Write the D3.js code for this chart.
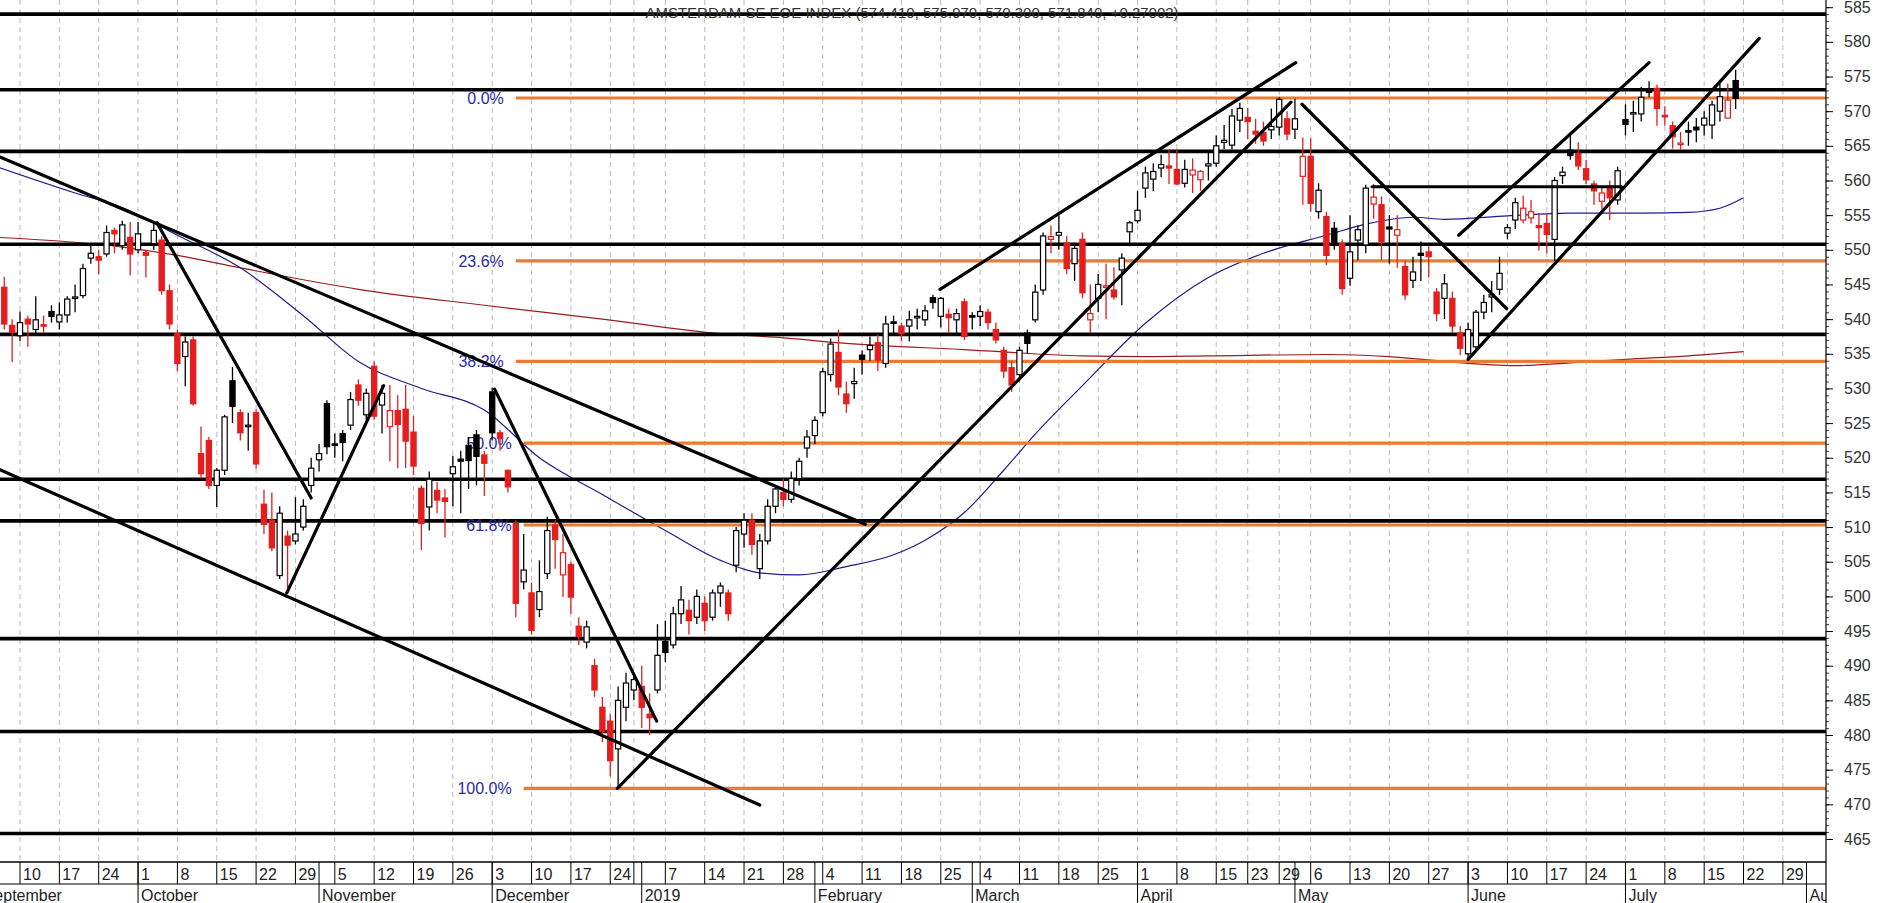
<!DOCTYPE html>
<html><head><meta charset="utf-8">
<script src="https://cdn.jsdelivr.net/npm/d3@7"></script>
<style>body{margin:0;background:#fff}svg{display:block}text{font-family:"Liberation Sans Narrow","Liberation Sans",Arial,sans-serif}</style>
</head><body>
<script>
const title = "AMSTERDAM SE EOE INDEX (574.410, 575.970, 570.300, 571.840, +0.27002)";
const firstDay = "2018-09-05", lastDay = "2019-08-02";
const holidays = ["2018-12-25","2018-12-26","2019-01-01","2019-04-19","2019-04-22","2019-05-01"];
// [open, high, low, close], one per trading day from 2018-09-05 to 2019-07-19
const candles = [
[546,547,540,541],[544.6,546.1,538.5,539.3],[539.1,540,533.8,538.1],
[537.6,541.1,536.8,539.5],[540,540.5,536,539.3],[538.5,543.3,537.6,539.9],[539.2,540.5,538,539],[541.1,542,539.5,540.4],
[539.6,542.4,538.5,540.6],[540.6,543.3,539.5,542.9],[543,545,541,543.2],[543.4,548,543,547.3],[548.8,551,548,549.5],
[549,550,546.5,548.5],[549.4,553.5,549,552.5],[552.8,553.2,549.5,552.3],[550.6,554.2,550,553.6],[551.8,554,546.3,549.4],
[550,554,549.5,552.3],[549.6,550,546,549.2],[550.9,553.9,550,552.8],[551.4,552,543.5,544.1],[544.1,545,538.5,539.3],
[537.9,538.5,532.5,533.6],[534.6,537.5,530.3,536.7],[537,537.5,527.5,527.8],[520.6,524.5,517,517.7],[522.5,523,515.5,516],
[516,518.5,512.9,518.2],[518.2,526.2,517.5,525.9],[531.1,533.1,525,527.4],[526.5,527,522.5,523.6],[524.6,526.5,521,524.7],
[526.5,527,518.5,519.1],[513.3,515.4,509,510.4],[511,515,506.5,507],[503,513,502.5,512],[508.7,509.5,501,507.4],
[508,514.3,507.5,509],[510,514,509.5,513],[516,520,515,518.5],[519.7,522,518,520.6],[527.8,528.3,520.5,521.6],
[522,523.5,520,521.9],[523.5,524,519.5,522.2],[524.7,529.5,524,528.4],[530.5,531.3,527.5,528.3],[526.2,530,525.5,529.3],
[533.2,533.9,525.5,526],[527.6,530.5,523.5,529.3],[524.5,530.5,519.5,526.8],[526.8,529,518.5,524.8],[527,530.5,518.5,522.4],
[523.7,526,517.5,518.8],[515.6,516,506.7,510.5],[512.9,518,509.5,516.9],[515.3,516.5,512,513.9],[514.2,515.5,508.5,513.7],
[517.7,520.3,513,518.7],[519.8,521,512,519.5],[521.8,523,515.5,519.6],[523.3,524,516,520.2],[520.4,521,514.5,519.2],
[529.5,530.1,522.5,523.6],[523.6,524,521,522.8],[518.2,518.2,515,515.8],[510.5,511,497,499],[502.1,509,501,503.8],
[500.5,502,494.5,495.1],[498.1,505.2,497,500.7],[503.3,511.5,502.5,509.5],[510.3,511,504,508.2],[503.1,509,499.9,506.3],
[504.6,505,497.5,499.9],[495.7,497,493,494.2],[493.4,496.5,492.5,495.6],[490,491,485.5,486.5],[484,485.5,479,480.5],
[482,483,474,476.3],[478,487,472.3,485],[484,489,482,487.5],[486.5,489,485,488],
[487,490,481,484],[483,486,480,482.5],[486.5,496,486,491.5],[493.5,496.5,490.5,491.9],[493,498.5,492.5,497.5],
[497.5,501.5,496,499.5],[498,499.5,494.5,496.5],[497,501,496,500],[499,500,495,496.5],[497,501,496.5,500.5],
[500.5,502,498.5,501.5],[500.5,501,496.5,497.5],[504.5,510,503.5,509.5],[509,512,507,511],[511,512,506,507.5],
[504,509,502.5,508],[508,514,507.5,513],[513,516,512,515.5],[515,517,513,514],[514,518,513.5,517],
[517,520,516,519.5],[521.4,524,520,523],[523.2,526,522,525.4],[526.5,533,526,532.4],[532,537.2,531,536.4],
[535.2,538.5,529,530.2],[529.2,531,526.5,527.8],[530.7,533,528.5,531],[534.8,535.5,532,534.2],[535.6,537.5,534,536.2],
[536.6,537.8,532.5,534.1],[533.6,540.5,533,539.3],[539.6,540.5,538,539.5],[539,539.5,536.8,537.9],[539,541.2,536.8,539.9],
[540.3,541.5,538.5,540.4],[539.9,542,539,541.2],[543.1,543.5,541.5,542.4],[540.4,543.2,538.8,543],[540.7,541.5,538,540.2],
[539.9,541.5,538,540.8],[542.5,543,537,537.5],[540.5,541,538.5,540.4],[540.4,542,539,541.1],[541,541.5,538.5,539.5],
[538.5,539.5,536.5,537],[535.5,536,531.5,532.5],[533,534,529.5,530.5],[532,536,531,535.5],[538,538.5,535,536.5],
[539.9,545,539.5,543.9],[544.2,552.5,543.5,552],[551.5,553.5,549.5,551.9],[552.1,555,550,552.5],[551,552,546.5,547.3],
[548,551,545.5,550.2],[551.5,552.5,543,543.8],[539.9,545,538,540.8],[543,546.5,541,545],[544.6,548,540,544.8],
[544.2,547.5,542.8,543.2],[547.1,549.5,542,548.8],[552.6,554.2,550.5,553.9],[554.2,558.5,553.8,555.7],[558.9,562,557.5,561.1],
[560.2,562.5,558.5,561.3],[561.8,563.7,560.5,562.3],[562.1,564.5,559.5,561.8],[561.6,564.5,559.3,559.5],[559.6,563,559,561.6],
[560.8,563.2,558.2,561.5],[560.1,561.5,558.5,561.3],[562.1,564,560,562.4],[562.5,566.5,562,565],[565.5,568,564.5,565.8],
[565.1,570.3,564.5,569.3],[568.7,571.2,567,570.4],[569.1,570.5,566,568.5],[567.1,568.9,565.3,566.7],[566.9,568.5,565,565.7],
[567.3,570.4,566,567.8],[567.7,572,566.5,571.7],[568.9,570,565.8,566.7],[567.4,571.8,566,568.9],[560.6,566.2,556.5,563.5],
[563.5,566.1,555.5,556.7],[555.5,559.6,554.5,558.6],[554.8,555.5,547.8,549.2],[553.1,554,550,550.7],[550.9,551.5,543.5,544.4],
[545.9,555,544.8,549.7],[551.4,553.5,548.5,552.9],[550.7,559.4,549.5,558.9],[556.6,559.5,554.5,557.6],[556.5,557.7,548.5,551.2],
[553.3,555,548,553],[552.1,555,547.4,552.9],[547.6,548.5,542.8,543.5],[545.6,549,544.5,546.8],[549.5,551.2,545.5,549.2],
[549.7,550.5,546,549],[543.9,544.5,539.7,540.8],[543,546.5,540,545.1],[543,544,538,539],[538,539,534.8,535.8],
[535,539.5,534.2,538.5],[536,541.3,535.5,541],[541,543.5,540,542.4],[543.2,545.5,541,543.5],[544.3,549,543.5,546.6],
[552.4,553.7,551.5,553.2],[554.3,557.5,553,556.8],[554.3,557.8,553.8,556],[554.6,557.2,553.8,555.5],[553.5,555.3,549.9,553.2],
[553.8,555.2,549.5,552.2],[551.5,560.5,548.4,560],[560.7,562,559.5,561.2],[564.4,567,563,563.6],[563.9,565.5,561.5,562.1],
[561.7,563,559.5,560.1],[559.5,560,556.5,558.5],[557,559,555.8,558.2],[558.9,560,554.3,557.5],[557.2,562,556.5,561.4],
[568.8,571,566.5,568.1],[569.6,571.5,567,569.8],[569.6,573.5,568.5,572],[573.1,574.3,572,572.7],[573.3,573.8,567.9,570.4],
[569.4,570.7,567.9,569.3],[567.9,568.5,564.6,566.3],[565.2,567,564.5,565.4],[567.2,568.5,565,567],[567.7,569,565.5,567.3],
[568,570,566.5,569],[568,571.5,566,570.9],[570,574.5,568.5,572.1],[569,574,569,571.6],[574.41,575.97,570.3,571.84]
];
const levels = [584.0,573.1,564.2,550.8,537.8,516.9,510.9,493.9,480.5,465.8];
const fibLabels = ["0.0%","23.6%","38.2%","50.0%","61.8%","100.0%"];
const fibValues = [571.9,548.4,533.9,522.1,510.3,472.3];
const fibStartDay = [2,2,2,3,3,3];
const maBlue = [[-3,562],[7,558.2],[13,556.1],[20,552.1],[28,547.4],[36,540.5],[43,533.9],[51,530],[59,526.9],[66,520],[74,514.7],[82,509.5],[89,505.2],[94,503.4],[99,503.1],[105,504.3],[111,506],[115,508.1],[120,512.1],[125,518.2],[129,523.4],[135,530.4],[143,539.4],[151,546],[158,549.5],[166,552.1],[171,553.7],[177,554.7],[181,554.4],[189,554.9],[197,555.3],[206,555.3],[212,555.4],[216,556],[219,557.5]];
const maRed = [[-3,551.8],[13,550.4],[20,549.2],[28,547.4],[43,544.3],[59,542],[74,540],[89,537.9],[97,537.3],[105,536.5],[120,535.6],[135,534.7],[143,534.6],[151,534.7],[166,534.9],[174,534.6],[181,533.9],[190,533.3],[197,533.7],[204,534.2],[212,534.7],[219,535.3]];
const trendLines = [[-3,563.6,107.4,510.4],[-3,518.5,94,469.9],[17.4,553.9,37,514.2],[33.9,500.5,46.2,530.4],[60.3,529.9,80.9,482],[75.9,472.3,161.5,571.3],[116.9,544.3,162.1,577],[162.9,571,188.9,541.5],[171.8,559.1,203.5,559.1],[182.8,552.1,207,577],[184,534.2,221,580.5]];
const weekTicks = ["2018-09-10","2018-09-17","2018-09-24","2018-10-01","2018-10-08","2018-10-15","2018-10-22","2018-10-29","2018-11-05","2018-11-12","2018-11-19","2018-11-26","2018-12-03","2018-12-10","2018-12-17","2018-12-24","2018-12-31","2019-01-07","2019-01-14","2019-01-21","2019-01-28","2019-02-04","2019-02-11","2019-02-18","2019-02-25","2019-03-04","2019-03-11","2019-03-18","2019-03-25","2019-04-01","2019-04-08","2019-04-15","2019-04-23","2019-04-29","2019-05-06","2019-05-13","2019-05-20","2019-05-27","2019-06-03","2019-06-10","2019-06-17","2019-06-24","2019-07-01","2019-07-08","2019-07-15","2019-07-22","2019-07-29"];
const weekLabels = ["10","17","24","1","8","15","22","29","5","12","19","26","3","10","17","24","","7","14","21","28","4","11","18","25","4","11","18","25","1","8","15","23","29","6","13","20","27","3","10","17","24","1","8","15","22","29"];
const monthStarts = ["2018-09-03","2018-10-01","2018-11-01","2018-12-03","2019-01-02","2019-02-01","2019-03-01","2019-04-01","2019-05-02","2019-06-03","2019-07-01","2019-08-01"];
const monthLabels = ["September","October","November","December","2019","February","March","April","May","June","July","Au"];

const fmt = d3.utcFormat("%Y-%m-%d");
const days = [];
for (let d = new Date(firstDay+"T00:00:00Z"); fmt(d) <= lastDay; d = new Date(d.getTime()+86400000)) {
  const wd = d.getUTCDay(); const s = fmt(d);
  if (wd>0 && wd<6 && !holidays.includes(s)) days.push(s);
}
const offset = days.indexOf("2018-09-10");
const dayIdx = s => { if (s < days[0]) return -5; let k = days.indexOf(s); if (k<0) k = days.findIndex(x=>x>s); return k - offset; };

const W=1890,H=903, plotR=1826, plotB=862;
const x = d3.scaleLinear().domain([0,219]).range([20,20+7.87*219]);
const y = d3.scaleLinear().domain([465,585]).range([839,7.2]);
const svg = d3.select("body").append("svg").attr("width",W).attr("height",H);
const defs = svg.append("defs");
defs.append("clipPath").attr("id","c").append("rect").attr("width",plotR).attr("height",plotB);
defs.append("clipPath").attr("id","b").append("rect").attr("width",plotR).attr("height",H);
const g = svg.append("g").attr("clip-path","url(#c)");

weekTicks.forEach(t=>{ const xx=x(dayIdx(t));
  g.append("line").attr("x1",xx).attr("x2",xx).attr("y1",0).attr("y2",plotB).attr("stroke","#bbb").attr("stroke-dasharray","5,4").attr("stroke-width",1);});

svg.append("text").attr("x",912).attr("y",18).attr("text-anchor","middle").attr("font-size",15).attr("fill","#333").text(title);

const ml = d3.line().x(d=>x(d[0])).y(d=>y(d[1])).curve(d3.curveMonotoneX);
g.append("path").attr("d",ml(maRed)).attr("fill","none").attr("stroke","#9b1c1c").attr("stroke-width",1.2);
g.append("path").attr("d",ml(maBlue)).attr("fill","none").attr("stroke","#1c1c8c").attr("stroke-width",1.2);

levels.forEach(v=>g.append("line").attr("x1",0).attr("x2",plotR).attr("y1",y(v)).attr("y2",y(v)).attr("stroke","#000").attr("stroke-width",3.6));
const fib0 = dayIdx("2018-12-07")-3;
fibValues.forEach((v,k)=>{
  const xs = x(fib0+fibStartDay[k]);
  g.append("line").attr("x1",xs).attr("x2",plotR).attr("y1",y(v)).attr("y2",y(v)).attr("stroke","#e87b35").attr("stroke-width",3.2);
  g.append("text").attr("x",xs-12).attr("y",y(v)+6).attr("text-anchor","end").attr("font-size",16).attr("fill","#2a2aa8").text(fibLabels[k]);
});

const cg = g.append("g");
candles.forEach((c,k)=>{
  const i = k - offset, [o,h,l,cl]=c;
  const prev = k>0 ? candles[k-1][3] : o;
  const col = cl < prev ? "#e41e1e" : "#000";
  const filled = cl < o;
  const xx = x(i);
  cg.append("line").attr("x1",xx).attr("x2",xx).attr("y1",y(h)).attr("y2",y(l)).attr("stroke",col).attr("stroke-width",1.3);
  const top=y(Math.max(o,cl)), bh=Math.max(1.5,Math.abs(y(o)-y(cl)));
  cg.append("rect").attr("x",xx-2.6).attr("y",top).attr("width",5.2).attr("height",bh)
    .attr("fill",filled?col:"#fff").attr("stroke",col).attr("stroke-width",1.2);
});

trendLines.forEach(t=>g.append("line").attr("x1",x(t[0])).attr("y1",y(t[1])).attr("x2",x(t[2])).attr("y2",y(t[3])).attr("stroke","#000").attr("stroke-width",3.2).attr("stroke-linecap","round"));

const minor = d3.range(465,586,1);
svg.append("g").attr("transform",`translate(${plotR},0)`).call(d3.axisRight(y).tickValues(minor).tickSize(3).tickFormat(""))
  .call(a=>a.select(".domain").remove()).selectAll("line").attr("stroke","#444");
const ax = svg.append("g").attr("transform",`translate(${plotR},0)`).call(d3.axisRight(y).tickValues(d3.range(465,586,5)).tickSize(7).tickPadding(11));
ax.select(".domain").remove();
ax.selectAll("text").attr("font-size",16).attr("fill","#333").style("font-family","'Liberation Sans Narrow','Liberation Sans',Arial");
svg.append("line").attr("x1",plotR).attr("x2",plotR).attr("y1",0).attr("y2",H).attr("stroke","#000").attr("stroke-width",1.2);

const bg = svg.append("g").attr("clip-path","url(#b)");
bg.append("line").attr("x1",0).attr("x2",plotR).attr("y1",plotB).attr("y2",plotB).attr("stroke","#000").attr("stroke-width",1.5);
bg.append("line").attr("x1",0).attr("x2",plotR).attr("y1",884).attr("y2",884).attr("stroke","#000").attr("stroke-width",1.2);
weekTicks.forEach((t,k)=>{ const xx=x(dayIdx(t));
  bg.append("line").attr("x1",xx).attr("x2",xx).attr("y1",plotB).attr("y2",884).attr("stroke","#000");
  bg.append("text").attr("x",xx+3).attr("y",880).attr("font-size",16).attr("fill","#222").text(weekLabels[k]);
});
monthStarts.forEach((t,k)=>{ const xx=x(dayIdx(t));
  bg.append("line").attr("x1",xx).attr("x2",xx).attr("y1",plotB).attr("y2",H).attr("stroke","#000");
  bg.append("text").attr("x",xx+3).attr("y",901).attr("font-size",16).attr("fill","#222").text(monthLabels[k]);
});
</script>
</body></html>
